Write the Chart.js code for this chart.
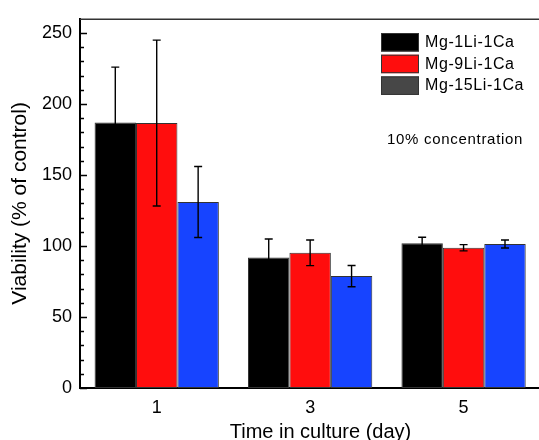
<!DOCTYPE html>
<html>
<head>
<meta charset="utf-8">
<script src="https://cdn.jsdelivr.net/npm/chart.js@4.4.1/dist/chart.umd.min.js"></script>
<style>
  html, body { margin: 0; padding: 0; background: #fff; overflow: hidden; }
  #wrap { width: 561px; height: 440px; }
</style>
</head>
<body>
<div id="wrap"><canvas id="chart" width="561" height="440"></canvas></div>
<script>
// datos
const days = [1, 3, 5];
const seriesNames = ['Mg-1Li-1Ca', 'Mg-9Li-1Ca', 'Mg-15Li-1Ca'];
const mg1 = [187, 91.9, 101.9];
const mg9 = [186.6, 95.2, 98.8];
const mg15 = [131, 78.8, 101.4];
const mg1Err = [39, 13, 4.3];
const mg9Err = [58.4, 9, 2.2];
const mg15Err = [25, 7.5, 2.8];
const yTickValues = [0, 50, 100, 150, 200, 250];
const barColors = ['#000000', '#ff0d0d', '#1744ff'];
const legendColors = ['#000000', '#ff0d0d', '#474747'];
const note = '10% concentration';

const font = "'Liberation Sans', Arial, sans-serif";
Chart.defaults.font.family = font;
Chart.defaults.color = '#000';

const values = [mg1, mg9, mg15];
const errors = [mg1Err, mg9Err, mg15Err];

const datasets = seriesNames.map((name, i) => ({
    label: name,
    data: days.map((d, j) => ({ x: d, y: values[i][j] })),
    backgroundColor: barColors[i],
    borderColor: '#333',
    borderWidth: 1,
    borderSkipped: false,
    categoryPercentage: 0.81,
    barPercentage: 1.0,
}));

// barras de error
const errorBarPlugin = {
    id: 'errorBars',
    afterDatasetsDraw(chart) {
        const ctx = chart.ctx;
        const y = chart.scales.y;
        ctx.save();
        ctx.strokeStyle = '#000';
        ctx.lineWidth = 1.4;
        chart.data.datasets.forEach((ds, i) => {
            const meta = chart.getDatasetMeta(i);
            meta.data.forEach((bar, j) => {
                const v = values[i][j];
                const e = errors[i][j];
                const top = y.getPixelForValue(v + e);
                const bot = y.getPixelForValue(v - e);
                ctx.beginPath();
                ctx.moveTo(bar.x, top);
                ctx.lineTo(bar.x, bot);
                ctx.moveTo(bar.x - 4, top);
                ctx.lineTo(bar.x + 4, top);
                ctx.moveTo(bar.x - 4, bot);
                ctx.lineTo(bar.x + 4, bot);
                ctx.stroke();
            });
        });
        ctx.restore();
    },
};

// ticks hacia adentro, borde superior, leyenda y nota
const framePlugin = {
    id: 'frame',
    afterDraw(chart) {
        const ctx = chart.ctx;
        const area = chart.chartArea;
        const y = chart.scales.y;
        ctx.save();
        ctx.strokeStyle = '#000';
        ctx.lineWidth = 1.5;
        ctx.beginPath();
        for (let v = 0; v <= 250; v += 10) {
            const py = Math.round(y.getPixelForValue(v)) + 0.5;
            const len = v % 50 === 0 ? 7 : 4;
            ctx.moveTo(area.left, py);
            ctx.lineTo(area.left + len, py);
        }
        ctx.stroke();

        ctx.strokeStyle = '#333';
        ctx.beginPath();
        ctx.moveTo(area.left, area.top + 0.5);
        ctx.lineTo(area.right, area.top + 0.5);
        ctx.stroke();

        // leyenda
        ctx.lineWidth = 1;
        ctx.font = '16px ' + font;
        ctx.letterSpacing = '0.6px';
        ctx.textBaseline = 'middle';
        ctx.fillStyle = '#000';
        seriesNames.forEach((name, i) => {
            const bx = 381, by = 33 + i * 21.7;
            ctx.fillStyle = legendColors[i];
            ctx.fillRect(bx, by, 38, 18.5);
            ctx.strokeStyle = '#333';
            ctx.strokeRect(bx + 0.5, by + 0.5, 37, 17.5);
            ctx.fillStyle = '#000';
            ctx.fillText(name, 425, by + 9.5);
        });

        ctx.font = '15px ' + font;
        ctx.letterSpacing = '0.7px';
        ctx.fillText(note, 387, 139.5);
        ctx.restore();
    },
};

new Chart(document.getElementById('chart'), {
    type: 'bar',
    data: { datasets },
    options: {
        responsive: false,
        animation: false,
        layout: { padding: { top: 12, left: 0, right: 0, bottom: 0 } },
        plugins: {
            legend: { display: false },
            tooltip: { enabled: false },
        },
        scales: {
            x: {
                type: 'linear',
                min: 0,
                max: 6.27,
                offset: false,
                grid: { display: false, drawTicks: false },
                border: { display: true, width: 2, color: '#000' },
                afterBuildTicks(scale) {
                    scale.ticks = days.map(d => ({ value: d }));
                },
                afterFit(scale) {
                    scale.height = 52;
                },
                ticks: {
                    font: { size: 18 },
                    padding: 9,
                    maxRotation: 0,
                    autoSkip: false,
                },
                title: {
                    display: true,
                    text: 'Time in culture (day)',
                    font: { size: 20, lineHeight: 0.8 },
                    padding: { top: 0, bottom: 0 },
                },
            },
            y: {
                min: 0,
                max: 260,
                grid: { display: false, drawTicks: false },
                border: { display: true, width: 2, color: '#000' },
                afterBuildTicks(scale) {
                    scale.ticks = yTickValues.map(v => ({ value: v }));
                },
                afterFit(scale) {
                    scale.width = 80;
                },
                ticks: {
                    font: { size: 18 },
                    padding: 8,
                },
                title: {
                    display: true,
                    text: 'Viability (% of control)',
                    font: { size: 21, lineHeight: 1 },
                    padding: { top: 10, bottom: 0 },
                },
            },
        },
    },
    plugins: [errorBarPlugin, framePlugin],
});
</script>
</body>
</html>
